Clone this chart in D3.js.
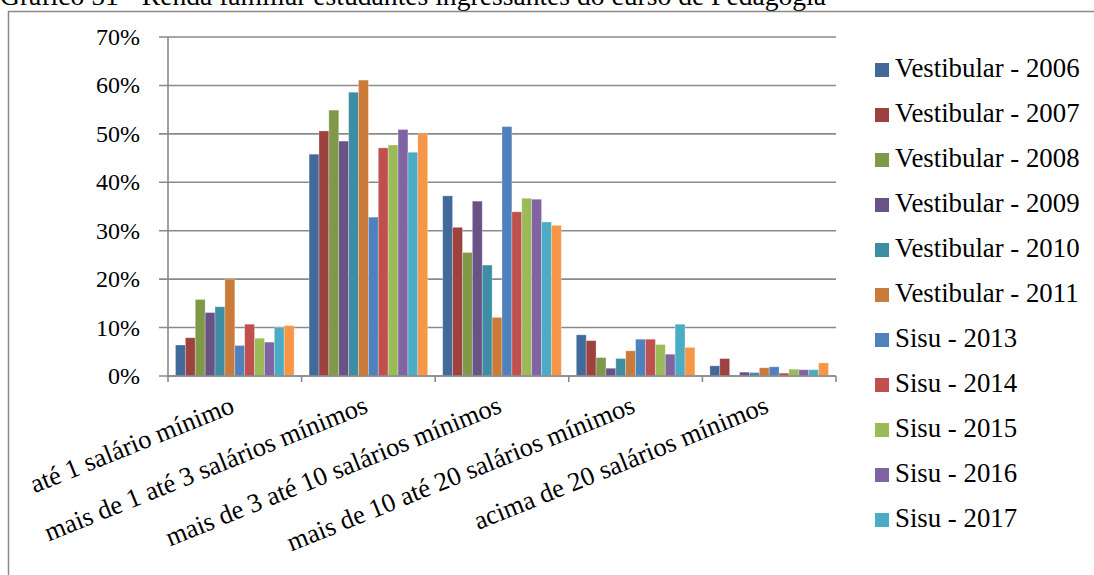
<!DOCTYPE html>
<html>
<head>
<meta charset="utf-8">
<script src="https://cdn.jsdelivr.net/npm/d3@7"></script>
<style>
  body { margin: 0; background: #fff; }
  svg text { font-family: 'Liberation Serif', 'DejaVu Serif', serif; fill: #000; }
</style>
</head>
<body>
<div id="chart"></div>
<script>
// dados
const categorias = ['até 1 salário mínimo', 'mais de 1 até 3 salários mínimos', 'mais de 3 até 10 salários mínimos', 'mais de 10 até 20 salários mínimos', 'acima de 20 salários mínimos']
const series = ['Vestibular - 2006', 'Vestibular - 2007', 'Vestibular - 2008', 'Vestibular - 2009', 'Vestibular - 2010', 'Vestibular - 2011', 'Sisu - 2013', 'Sisu - 2014', 'Sisu - 2015', 'Sisu - 2016', 'Sisu - 2017', 'Sisu - 2018']
// valores em % por série (uma linha por série, uma coluna por categoria)
const v2006 = [6.4, 45.8, 37.2, 8.5, 2.1]
const v2007 = [7.9, 50.6, 30.7, 7.3, 3.6]
const v2008 = [15.8, 54.9, 25.5, 3.8, 0]
const v2009 = [13.1, 48.5, 36.1, 1.6, 0.8]
const v2010 = [14.3, 58.6, 22.9, 3.6, 0.7]
const v2011 = [20.0, 61.1, 12.1, 5.2, 1.7]
const s2013 = [6.3, 32.8, 51.5, 7.6, 1.9]
const s2014 = [10.7, 47.1, 33.9, 7.6, 0.6]
const s2015 = [7.8, 47.7, 36.7, 6.5, 1.4]
const s2016 = [7.0, 50.9, 36.5, 4.5, 1.3]
const s2017 = [10.0, 46.2, 31.8, 10.7, 1.3]
const s2018 = [10.4, 50.0, 31.1, 5.9, 2.7]
const yTicks = [0, 10, 20, 30, 40, 50, 60, 70]
const cores = ['#416A9B', '#9D423F', '#7F9949', '#695285', '#3E8DA2', '#CA7B39', '#4F81BD', '#C0504D', '#9BBB59', '#8064A2', '#4BACC6', '#F79646']

const valores = [v2006, v2007, v2008, v2009, v2010, v2011, s2013, s2014, s2015, s2016, s2017, s2018]

let width = 1094
let height = 575
let pLeft = 168, pRight = 836, pTop = 37, pBottom = 376
let fonte = "'Liberation Serif', 'DejaVu Serif', serif"

let svg = d3.select('#chart').append('svg').attr('width', width).attr('height', height)

// moldura e título (cortado no topo, como no original)
svg.append('text').text('Gráfico 51 - Renda familiar estudantes ingressantes do curso de Pedagogia')
  .attr('x', 0).attr('y', 5).attr('font-family', fonte).style('font-size', '27.6px')
svg.append('path').attr('d', 'M8.5,575 V11.5 H1094').attr('fill', 'none').attr('stroke', '#8a8a8a').attr('stroke-width', 1.5)

// escalas
let x0 = d3.scaleBand().domain(categorias).range([pLeft, pRight])
let x1 = d3.scaleBand().domain(series).range([7.5, x0.bandwidth() - 7.5])
let y = d3.scaleLinear().domain([0, 70]).range([pBottom, pTop])

// linhas de grade
svg.append('g').selectAll('line').data(yTicks).join('line')
  .attr('x1', pLeft - 9).attr('x2', pRight)
  .attr('y1', d => y(d)).attr('y2', d => y(d))
  .attr('stroke', '#8a8a8a').attr('stroke-width', 1.6)

// eixo Y
svg.append('line').attr('x1', pLeft).attr('x2', pLeft).attr('y1', pTop).attr('y2', pBottom)
  .attr('stroke', '#8a8a8a').attr('stroke-width', 1.6)
svg.append('g').selectAll('text').data(yTicks).join('text')
  .attr('x', 140).attr('y', d => y(d) + 8)
  .attr('text-anchor', 'end').attr('font-family', fonte).style('font-size', '24px')
  .text(d => d + '%')

// barras
let grupos = svg.append('g').selectAll('g').data(categorias).join('g')
  .attr('transform', d => 'translate(' + x0(d) + ',0)')
grupos.selectAll('rect').data((c, ci) => series.map((s, si) => ({ s: s, si: si, v: valores[si][ci] }))).join('rect')
  .attr('x', d => x1(d.s))
  .attr('width', x1.bandwidth())
  .attr('y', d => y(d.v))
  .attr('height', d => pBottom - y(d.v))
  .attr('fill', d => cores[d.si])
  .attr('stroke', 'rgba(255,255,255,0.35)').attr('stroke-width', 0.8)

// eixo X
svg.append('line').attr('x1', pLeft).attr('x2', pRight).attr('y1', pBottom).attr('y2', pBottom)
  .attr('stroke', '#8a8a8a').attr('stroke-width', 1.6)
let divisoes = categorias.map(c => x0(c)).concat([pRight])
svg.append('g').selectAll('line').data(divisoes).join('line')
  .attr('x1', d => d).attr('x2', d => d).attr('y1', pBottom).attr('y2', pBottom + 6)
  .attr('stroke', '#8a8a8a').attr('stroke-width', 1.6)
svg.append('g').selectAll('text').data(categorias).join('text')
  .attr('text-anchor', 'end').attr('font-family', fonte).style('font-size', '26.5px')
  .attr('transform', d => 'translate(' + (x0(d) + x0.bandwidth() / 2 + 1) + ',412) rotate(-22)')
  .text(d => d)

// legenda (a última série não cabe na área)
let legenda = svg.append('g').selectAll('g').data(series.slice(0, 11)).join('g')
  .attr('transform', (d, i) => 'translate(875,' + (63 + i * 45) + ')')
legenda.append('rect').attr('width', 14).attr('height', 14).attr('fill', (d, i) => cores[i])
legenda.append('text').attr('x', 20).attr('y', 14).attr('font-family', fonte).style('font-size', '26.8px').text(d => d)
</script>
</body>
</html>
